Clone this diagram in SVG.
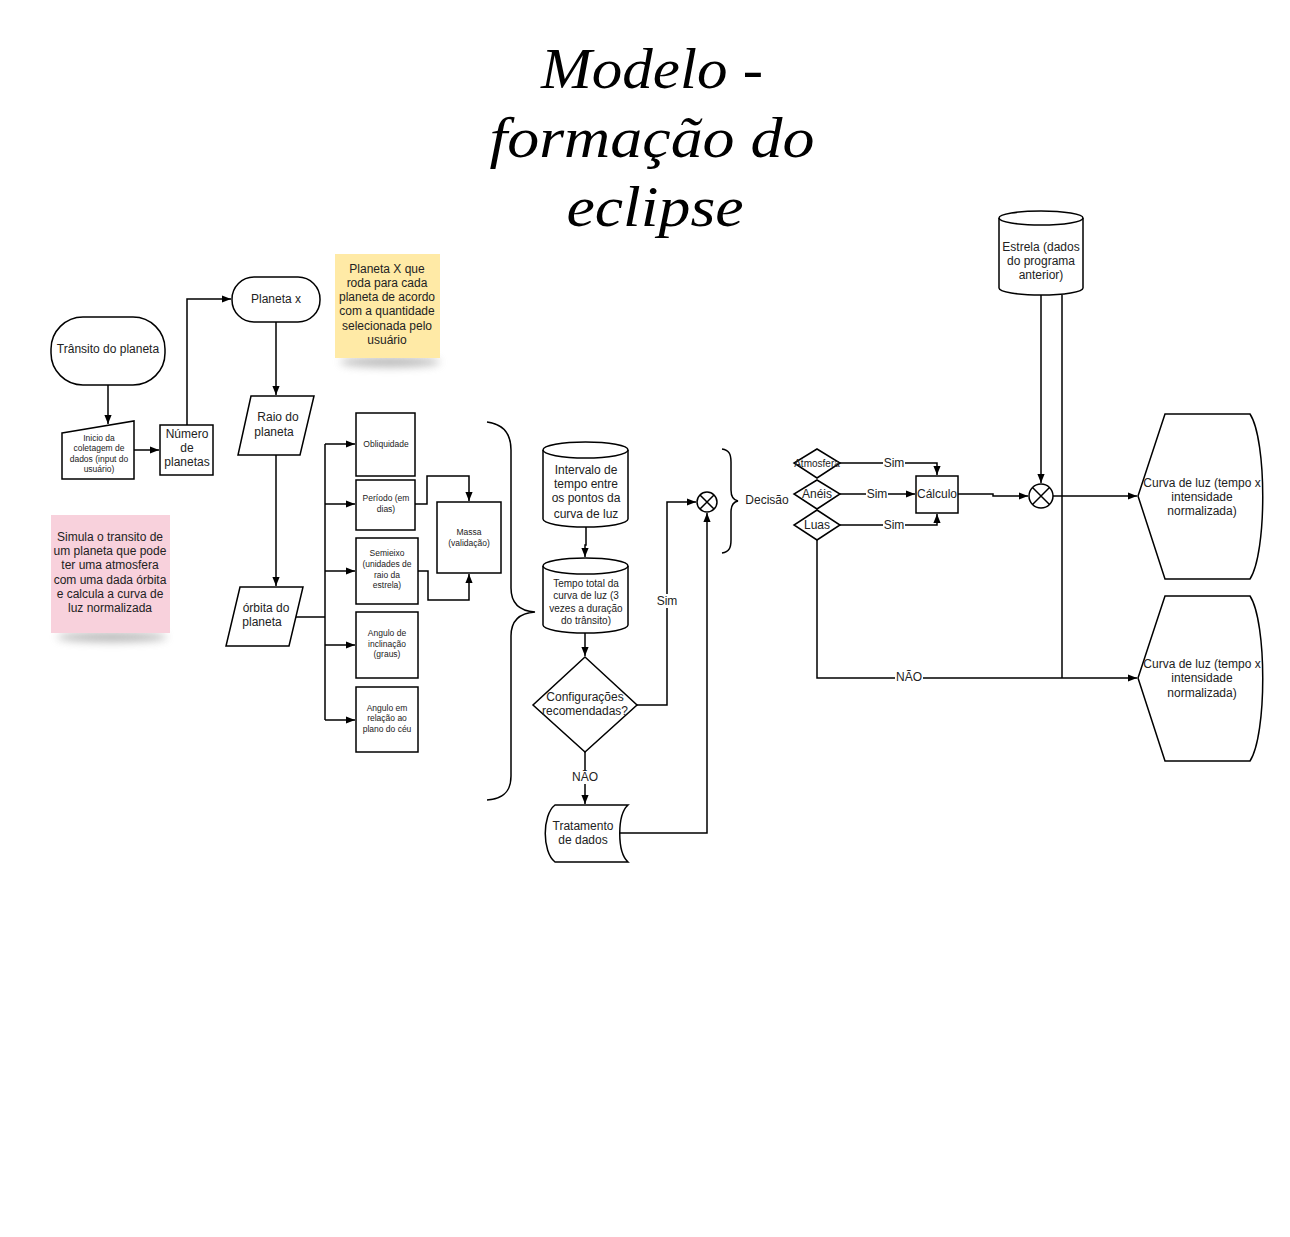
<svg xmlns="http://www.w3.org/2000/svg" width="1290" height="1237" viewBox="0 0 1290 1237">
<defs>
<style>
.s{fill:#fff;stroke:#000;stroke-width:1.5}
.c{fill:none;stroke:#000;stroke-width:1.5}
.t{font-family:"Liberation Sans",Arial,sans-serif;fill:#222;text-anchor:middle}
.t12{font-size:12px}
.t9{font-size:8.5px}
.t10{font-size:10px}
.lb{fill:#fff;stroke:none}
.title{font-family:"Liberation Serif","DejaVu Serif",serif;font-style:italic;font-size:58px;fill:#000;text-anchor:middle}
</style>
<marker id="arr" viewBox="0 0 10 10" refX="10" refY="5" markerWidth="10" markerHeight="9" markerUnits="userSpaceOnUse" orient="auto"><path d="M0,1 L10,5 L0,9 z" fill="#000"/></marker>
<filter id="sh" x="-30%" y="-100%" width="160%" height="300%"><feGaussianBlur stdDeviation="4"/></filter>
</defs>
<rect width="1290" height="1237" fill="#fff"/>

<g id="title">
<text class="title" x="652" y="88" textLength="222" lengthAdjust="spacingAndGlyphs">Modelo -</text>
<text class="title" x="652" y="157" textLength="325" lengthAdjust="spacingAndGlyphs">formação do</text>
<text class="title" x="655" y="226" textLength="177" lengthAdjust="spacingAndGlyphs">eclipse</text>
</g>

<g id="note-yellow">
<ellipse cx="390" cy="362" rx="50" ry="5" fill="#888" opacity="0.6" filter="url(#sh)"/>
<rect x="335" y="254" width="105" height="104" fill="#ffeaa6"/>
<text class="t t12"><tspan x="387" y="273">Planeta X que</tspan><tspan x="387" y="287">roda para cada</tspan><tspan x="387" y="301">planeta de acordo</tspan><tspan x="387" y="315">com a quantidade</tspan><tspan x="387" y="330">selecionada pelo</tspan><tspan x="387" y="344">usuário</tspan></text>
</g>

<g id="note-pink">
<ellipse cx="112" cy="637" rx="55" ry="5" fill="#888" opacity="0.6" filter="url(#sh)"/>
<rect x="51" y="515" width="119" height="118" fill="#f8d1dc"/>
<text class="t t12"><tspan x="110" y="541">Simula o transito de</tspan><tspan x="110" y="555">um planeta que pode</tspan><tspan x="110" y="569">ter uma atmosfera</tspan><tspan x="110" y="584">com uma dada órbita</tspan><tspan x="110" y="598">e calcula a curva de</tspan><tspan x="110" y="612">luz normalizada</tspan></text>
</g>

<g id="connectors">
<path class="c" d="M108,385 V424" marker-end="url(#arr)"/>
<path class="c" d="M134,450 H159" marker-end="url(#arr)"/>
<path class="c" d="M187,425 V299 H231" marker-end="url(#arr)"/>
<path class="c" d="M276,322 V395" marker-end="url(#arr)"/>
<path class="c" d="M276,455 V586" marker-end="url(#arr)"/>
<path class="c" d="M296,617 H325"/>
<path class="c" d="M325,444 V720"/>
<path class="c" d="M325,444 H355" marker-end="url(#arr)"/>
<path class="c" d="M325,504 H355" marker-end="url(#arr)"/>
<path class="c" d="M325,571 H355" marker-end="url(#arr)"/>
<path class="c" d="M325,645 H355" marker-end="url(#arr)"/>
<path class="c" d="M325,720 H355" marker-end="url(#arr)"/>
<path class="c" d="M415,504 H427 V476 H469 V501" marker-end="url(#arr)"/>
<path class="c" d="M418,571 H428 V600 H469 V574" marker-end="url(#arr)"/>
<path class="c" d="M586,527 V545 H585 V557" marker-end="url(#arr)"/>
<path class="c" d="M585,633 V656" marker-end="url(#arr)"/>
<path class="c" d="M637,705 H667 V502 H696" marker-end="url(#arr)"/>
<path class="c" d="M585,752 V804" marker-end="url(#arr)"/>
<path class="c" d="M620,833 H707 V513" marker-end="url(#arr)"/>
<path class="c" d="M840,463 H937 V475" marker-end="url(#arr)"/>
<path class="c" d="M840,494 H915" marker-end="url(#arr)"/>
<path class="c" d="M840,525 H937 V514" marker-end="url(#arr)"/>
<path class="c" d="M958,494 H993 V496 H1028" marker-end="url(#arr)"/>
<path class="c" d="M1041,295 V483" marker-end="url(#arr)"/>
<path class="c" d="M1053,496 H1137" marker-end="url(#arr)"/>
<path class="c" d="M1062,295 V678"/>
<path class="c" d="M817,540 V678 H1137" marker-end="url(#arr)"/>
<rect class="lb" x="655" y="594" width="24" height="14"/>
<text class="t t12" x="667" y="605">Sim</text>
<rect class="lb" x="571" y="770" width="28" height="14"/>
<text class="t t12" x="585" y="781">NÃO</text>
<rect class="lb" x="883" y="456" width="22" height="14"/>
<text class="t t12" x="894" y="467">Sim</text>
<rect class="lb" x="866" y="487" width="22" height="14"/>
<text class="t t12" x="877" y="498">Sim</text>
<rect class="lb" x="883" y="518" width="22" height="14"/>
<text class="t t12" x="894" y="529">Sim</text>
<rect class="lb" x="895" y="670" width="28" height="14"/>
<text class="t t12" x="909" y="681">NÃO</text>
</g>

<g id="transito">
<rect class="s" x="51" y="317" width="114" height="68" rx="32" ry="32"/>
<text class="t t12" x="108" y="353">Trânsito do planeta</text>
</g>

<g id="inicio">
<path class="s" d="M62,433 L134,421 L134,479 L62,479 Z"/>
<text class="t t9"><tspan x="99" y="441">Inicio da</tspan><tspan x="99" y="451">coletagem de</tspan><tspan x="99" y="462">dados (input do</tspan><tspan x="99" y="472">usuário)</tspan></text>
</g>

<g id="numero">
<rect class="s" x="160" y="425" width="53" height="50"/>
<text class="t t12"><tspan x="187" y="438">Número</tspan><tspan x="187" y="452">de</tspan><tspan x="187" y="466">planetas</tspan></text>
</g>

<g id="planeta-x">
<rect class="s" x="232" y="277" width="88" height="45" rx="22" ry="22"/>
<text class="t t12" x="276" y="303">Planeta x</text>
</g>

<g id="raio">
<path class="s" d="M251,396 L314,396 L300,455 L238,455 Z"/>
<text class="t t12"><tspan x="278" y="421">Raio do</tspan><tspan x="274" y="436">planeta</tspan></text>
</g>

<g id="orbita">
<path class="s" d="M240,587 L303,587 L289,646 L226,646 Z"/>
<text class="t t12"><tspan x="266" y="612">órbita do</tspan><tspan x="262" y="626">planeta</tspan></text>
</g>

<g id="obliquidade">
<rect class="s" x="356" y="413" width="59" height="63"/>
<text class="t t9" x="386" y="447">Obliquidade</text>
</g>

<g id="periodo">
<rect class="s" x="356" y="480" width="59" height="50"/>
<text class="t t9"><tspan x="386" y="501">Período  (em</tspan><tspan x="386" y="512">dias)</tspan></text>
</g>

<g id="semieixo">
<rect class="s" x="356" y="538" width="62" height="66"/>
<text class="t t9"><tspan x="387" y="556">Semieixo</tspan><tspan x="387" y="567">(unidades de</tspan><tspan x="387" y="578">raio da</tspan><tspan x="387" y="588">estrela)</tspan></text>
</g>

<g id="inclinacao">
<rect class="s" x="356" y="612" width="62" height="66"/>
<text class="t t9"><tspan x="387" y="636">Angulo de</tspan><tspan x="387" y="647">inclinação</tspan><tspan x="387" y="657">(graus)</tspan></text>
</g>

<g id="angulo-ceu">
<rect class="s" x="356" y="687" width="62" height="65"/>
<text class="t t9"><tspan x="387" y="711">Angulo em</tspan><tspan x="387" y="721">relação ao</tspan><tspan x="387" y="732">plano do céu</tspan></text>
</g>

<g id="massa">
<rect class="s" x="437" y="502" width="64" height="71"/>
<text class="t t9"><tspan x="469" y="535">Massa</tspan><tspan x="469" y="546">(validação)</tspan></text>
</g>

<g id="brace-big">
<path class="c" d="M487,422 C503,424 511,434 511,450 V588 C511,604 520,611 535,612 C520,613 511,620 511,636 V776 C511,792 503,799 487,800"/>
</g>

<g id="intervalo">
<path class="s" d="M543,450 A42.5,8 0 0 1 628,450 L628,519 A42.5,8 0 0 1 543,519 Z"/>
<path class="c" d="M543,450 A42.5,8 0 0 0 628,450"/>
<text class="t t12"><tspan x="586" y="474">Intervalo de</tspan><tspan x="586" y="488">tempo entre</tspan><tspan x="586" y="502">os pontos da</tspan><tspan x="586" y="518">curva de luz</tspan></text>
</g>

<g id="tempo-total">
<path class="s" d="M543,566 A42.5,8 0 0 1 628,566 L628,625 A42.5,8 0 0 1 543,625 Z"/>
<path class="c" d="M543,566 A42.5,8 0 0 0 628,566"/>
<text class="t t10"><tspan x="586" y="587">Tempo total da</tspan><tspan x="586" y="599">curva de luz (3</tspan><tspan x="586" y="612">vezes a duração</tspan><tspan x="586" y="624">do trânsito)</tspan></text>
</g>

<g id="configuracoes">
<path class="s" d="M585,657 L637,705 L585,752 L533,705 Z"/>
<text class="t t12"><tspan x="585" y="701">Configurações</tspan><tspan x="585" y="715">recomendadas?</tspan></text>
</g>

<g id="tratamento">
<path class="s" d="M555,805 L628,805 C617,815 617,852 628,862 L555,862 C542,852 542,815 555,805 Z"/>
<text class="t t12"><tspan x="583" y="830">Tratamento</tspan><tspan x="583" y="844">de dados</tspan></text>
</g>

<g id="juncao-1">
<circle class="s" cx="707" cy="502" r="10"/>
<path class="c" d="M700,495 L714,509 M714,495 L700,509"/>
</g>

<g id="brace-decisao">
<path class="c" d="M722,449 C729,450 731,454 731,462 V490 C731,497 733,500 738,501 C733,502 731,505 731,512 V540 C731,548 729,552 722,553"/>
<text class="t t12" x="767" y="504">Decisão</text>
</g>

<g id="atmosfera">
<path class="s" d="M817,449 L840,463 L817,478 L794,463 Z"/>
<text class="t t10" x="817" y="467">Atmosfera</text>
</g>

<g id="aneis">
<path class="s" d="M817,480 L840,494 L817,509 L794,494 Z"/>
<text class="t t12" x="817" y="498">Anéis</text>
</g>

<g id="luas">
<path class="s" d="M817,510 L840,525 L817,540 L794,525 Z"/>
<text class="t t12" x="817" y="529">Luas</text>
</g>

<g id="calculo">
<rect class="s" x="916" y="476" width="42" height="37"/>
<text class="t t12" x="937" y="498">Cálculo</text>
</g>

<g id="juncao-2">
<circle class="s" cx="1041" cy="496" r="12"/>
<path class="c" d="M1032.5,487.5 L1049.5,504.5 M1049.5,487.5 L1032.5,504.5"/>
</g>

<g id="estrela">
<path class="s" d="M999,218 A42,7 0 0 1 1083,218 L1083,288 A42,7 0 0 1 999,288 Z"/>
<path class="c" d="M999,218 A42,7 0 0 0 1083,218"/>
<text class="t t12"><tspan x="1041" y="251">Estrela (dados</tspan><tspan x="1041" y="265">do programa</tspan><tspan x="1041" y="279">anterior)</tspan></text>
</g>

<g id="curva-1">
<path class="s" d="M1138,496 L1165,414 L1250,414 C1267,440 1267,553 1250,579 L1165,579 Z"/>
<text class="t t12"><tspan x="1202" y="487">Curva de luz (tempo x</tspan><tspan x="1202" y="501">intensidade</tspan><tspan x="1202" y="515">normalizada)</tspan></text>
</g>

<g id="curva-2">
<path class="s" d="M1138,678 L1165,596 L1250,596 C1267,622 1267,735 1250,761 L1165,761 Z"/>
<text class="t t12"><tspan x="1202" y="668">Curva de luz (tempo x</tspan><tspan x="1202" y="682">intensidade</tspan><tspan x="1202" y="697">normalizada)</tspan></text>
</g>
</svg>
